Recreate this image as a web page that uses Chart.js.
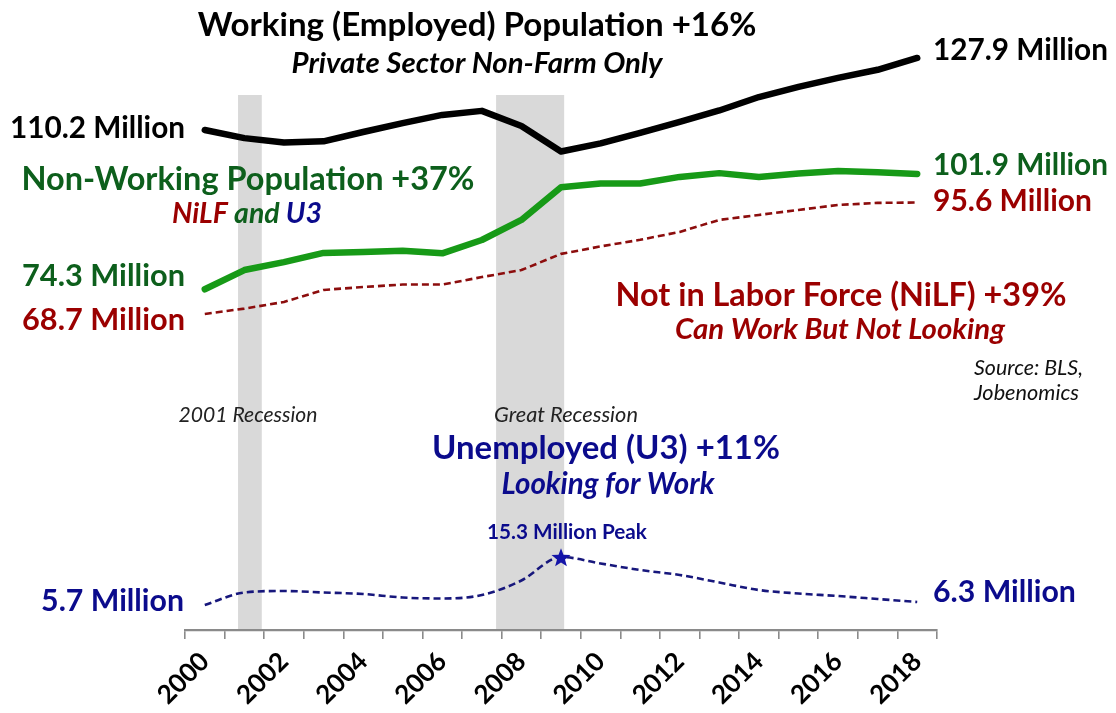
<!DOCTYPE html>
<html>
<head>
<meta charset="utf-8">
<script src="https://cdn.jsdelivr.net/npm/chart.js@4.4.1/dist/chart.umd.min.js"></script>
<style>
  html, body { margin: 0; padding: 0; background: #ffffff; }
  #wrap { width: 1116px; height: 713px; position: relative; background: #ffffff; }
</style>
</head>
<body>
<div id="wrap"><canvas id="c" width="1116" height="713"></canvas></div>
<script>
// ---------------- data ----------------
const years = ['2000','2001','2002','2003','2004','2005','2006','2007','2008','2009',
               '2010','2011','2012','2013','2014','2015','2016','2017','2018'];
// Working (Employed) population, private sector non-farm (millions)
const employed   = [110.2, 108.2, 107.1, 107.4, 109.7, 111.9, 113.9, 114.9, 111.2, 104.9,
                    106.9, 109.5, 112.2, 115.0, 118.3, 120.8, 123.0, 125.0, 127.9];
// Non-working population = NiLF + U3 (millions)
const nonWorking = [74.3, 78.9, 80.8, 83.0, 83.2, 83.5, 82.9, 86.1, 90.9, 98.7,
                    99.6, 99.6, 101.2, 102.1, 101.2, 102.0, 102.6, 102.3, 101.9];
// Not in labor force (millions)
const nilf       = [68.7, 70.0, 71.6, 74.5, 75.2, 75.8, 75.8, 77.6, 79.3, 83.2,
                    85.0, 86.6, 88.5, 91.4, 92.6, 93.8, 95.0, 95.5, 95.6];
// Unemployed U3 (millions)
const u3         = [5.7, 8.2, 8.5, 8.2, 7.9, 7.2, 7.0, 7.7, 10.6, 15.3,
                    14.0, 12.7, 11.7, 10.2, 8.7, 8.0, 7.5, 6.9, 6.3];
// Recession spans (fractional years, category centre = year)
const recessionStart = [2000.84, 2007.36];
const recessionEnd   = [2001.44, 2009.08];
const recessionNames = ['2001 Recession', 'Great Recession'];

// ---------------- styling ----------------
const FONT = 'Lato, "Open Sans", "DejaVu Sans", sans-serif';
const C_BLACK = '#000000';
const C_GREEN_TXT = '#0d5f1c';
const C_GREEN_LINE = '#179a17';
const C_RED_TXT = '#9b0000';
const C_RED_LINE = '#8c0d0d';
const C_BLUE_TXT = '#0b0b8c';
const C_BLUE_LINE = '#17177c';
const C_SHADE = '#d9d9d9';

const peakIndex = u3.indexOf(Math.max(...u3));

function makeStar(size, color) {
  const c = document.createElement('canvas');
  c.width = size; c.height = size;
  const g = c.getContext('2d');
  g.fillStyle = color;
  g.beginPath();
  const cx = size / 2, cy = size / 2 + size * 0.06, R = size / 2, r = R * 0.42;
  for (let i = 0; i < 10; i++) {
    const a = -Math.PI / 2 + i * Math.PI / 5;
    const rad = (i % 2) ? r : R;
    g.lineTo(cx + rad * Math.cos(a), cy + rad * Math.sin(a));
  }
  g.closePath();
  g.fill();
  return c;
}
const starImg = makeStar(20, '#1414a8');

// ---------------- annotation text ----------------
const notes = [
  { p: [['Working (Employed) Population +16%', C_BLACK]], x: 477, y: 25, a: 'center', b: true, i: false, w: 559 },
  { p: [['Private Sector Non-Farm Only', C_BLACK]], x: 477, y: 64, a: 'center', b: true, i: true, w: 371 },
  { p: [[employed[0] + ' Million', C_BLACK]], x: 185, y: 128, a: 'right', b: true, i: false, w: 175 },
  { p: [[employed[employed.length - 1] + ' Million', C_BLACK]], x: 933, y: 50, a: 'left', b: true, i: false, w: 175 },
  { p: [['Non-Working Population +37%', C_GREEN_TXT]], x: 248, y: 180, a: 'center', b: true, i: false, w: 453 },
  { p: [['NiLF', C_RED_TXT], [' and ', C_GREEN_TXT], ['U3', C_BLUE_TXT]], x: 247, y: 214, a: 'center', b: true, i: true, w: 150 },
  { p: [[nonWorking[nonWorking.length - 1] + ' Million', C_GREEN_TXT]], x: 933, y: 165, a: 'left', b: true, i: false, w: 175 },
  { p: [[nilf[nilf.length - 1] + ' Million', C_RED_TXT]], x: 933, y: 201, a: 'left', b: true, i: false, w: 159 },
  { p: [[nonWorking[0] + ' Million', C_GREEN_TXT]], x: 185, y: 276, a: 'right', b: true, i: false, w: 163 },
  { p: [[nilf[0] + ' Million', C_RED_TXT]], x: 185, y: 320, a: 'right', b: true, i: false, w: 163 },
  { p: [['Not in Labor Force (NiLF) +39%', C_RED_TXT]], x: 841, y: 296, a: 'center', b: true, i: false, w: 451 },
  { p: [['Can Work But Not Looking', C_RED_TXT]], x: 840, y: 330, a: 'center', b: true, i: true, w: 330 },
  { p: [['Source: BLS,', '#111111']], x: 974, y: 368, a: 'left', b: false, i: true, w: 109 },
  { p: [['Jobenomics', '#111111']], x: 974, y: 393, a: 'left', b: false, i: true, w: 105 },
  { p: [[recessionNames[0], '#222222']], x: 248, y: 415, a: 'center', b: false, i: true, w: 139 },
  { p: [[recessionNames[1], '#222222']], x: 566, y: 415, a: 'center', b: false, i: true, w: 144 },
  { p: [['Unemployed (U3) +11%', C_BLUE_TXT]], x: 606, y: 448, a: 'center', b: true, i: false, w: 348 },
  { p: [['Looking for Work', C_BLUE_TXT]], x: 608, y: 484, a: 'center', b: true, i: true, w: 213 },
  { p: [[u3[peakIndex] + ' Million Peak', C_BLUE_TXT]], x: 567, y: 532, a: 'center', b: true, i: false, w: 160 },
  { p: [[u3[0] + ' Million', C_BLUE_TXT]], x: 184, y: 601, a: 'right', b: true, i: false, w: 143 },
  { p: [[u3[u3.length - 1] + ' Million', C_BLUE_TXT]], x: 933, y: 592, a: 'left', b: true, i: false, w: 143 }
];

const shadePlugin = {
  id: 'recessions',
  beforeDatasetsDraw(chart) {
    const { ctx, chartArea, scales } = chart;
    const xs = scales.x;
    ctx.save();
    ctx.fillStyle = C_SHADE;
    for (let k = 0; k < recessionStart.length; k++) {
      const x0 = xs.getPixelForValue(recessionStart[k] - 2000);
      const x1 = xs.getPixelForValue(recessionEnd[k] - 2000);
      ctx.fillRect(x0, chartArea.top, x1 - x0, chartArea.bottom - chartArea.top - 1);
    }
    ctx.restore();
  }
};

const textPlugin = {
  id: 'notes',
  afterDraw(chart) {
    const ctx = chart.ctx;
    ctx.save();
    ctx.textBaseline = 'middle';
    for (const n of notes) {
      const style = (n.i ? 'italic ' : '') + (n.b ? '700 ' : '400 ');
      ctx.font = style + '100px ' + FONT;
      const full = n.p.map(q => q[0]).join('');
      const size = 100 * n.w / ctx.measureText(full).width;
      ctx.font = style + size.toFixed(2) + 'px ' + FONT;
      const total = ctx.measureText(full).width;
      let x = n.a === 'center' ? n.x - total / 2 : (n.a === 'right' ? n.x - total : n.x);
      ctx.textAlign = 'left';
      for (const [t, col] of n.p) {
        ctx.fillStyle = col;
        ctx.fillText(t, x, n.y);
        x += ctx.measureText(t).width;
      }
    }
    ctx.restore();
  }
};

const commonLine = { pointRadius: 0, pointHoverRadius: 0, fill: false, clip: false, borderJoinStyle: 'round' };

new Chart(document.getElementById('c'), {
  type: 'line',
  data: {
    labels: years,
    datasets: [
      Object.assign({}, commonLine, {
        label: 'Working (Employed) Population', data: employed, yAxisID: 'yEmp',
        borderColor: C_BLACK, borderWidth: 6.5, borderCapStyle: 'round', tension: 0
      }),
      Object.assign({}, commonLine, {
        label: 'Non-Working Population', data: nonWorking, yAxisID: 'yNon',
        borderColor: C_GREEN_LINE, borderWidth: 6.5, borderCapStyle: 'round', tension: 0
      }),
      Object.assign({}, commonLine, {
        label: 'Not in Labor Force (NiLF)', data: nilf, yAxisID: 'yNilf',
        borderColor: C_RED_LINE, borderWidth: 2.6, borderDash: [7, 4], tension: 0
      }),
      Object.assign({}, commonLine, {
        label: 'Unemployed (U3)', data: u3, yAxisID: 'yU3',
        borderColor: C_BLUE_LINE, borderWidth: 2.6, borderDash: [7, 4],
        cubicInterpolationMode: 'monotone',
        pointRadius: (c) => c.dataIndex === peakIndex ? 10 : 0,
        pointStyle: (c) => c.dataIndex === peakIndex ? starImg : 'circle',
        pointBackgroundColor: '#1414a8', pointBorderWidth: 0
      })
    ]
  },
  options: {
    responsive: false,
    animation: false,
    events: [],
    layout: { padding: { left: 185, right: 179, top: 95, bottom: 0 } },
    plugins: { legend: { display: false }, tooltip: { enabled: false }, title: { display: false } },
    scales: {
      x: {
        type: 'category',
        offset: true,
        afterFit: (s) => { s.height = 83; },
        border: { display: true, color: '#8a8a8a', width: 2.2 },
        grid: { offset: true, drawOnChartArea: false, drawTicks: true, tickLength: 9, color: '#8a8a8a', lineWidth: 1.6 },
        ticks: {
          autoSkip: false, minRotation: 45, maxRotation: 45, padding: 7,
          color: '#000000',
          font: { family: FONT, size: 26, weight: '700' },
          callback: function (v, idx) { return idx % 2 === 0 ? this.getLabelForValue(v) : ''; }
        }
      },
      yEmp:  { display: false, min: -12.72, max: 118.80 },
      yNon:  { display: false, min: -7.25,  max: 120.80 },
      yNilf: { display: false, min: -7.54,  max: 121.53 },
      yU3:   { display: false, min: 0.7,    max: 107.7 }
    }
  },
  plugins: [shadePlugin, textPlugin]
});
</script>
</body>
</html>
